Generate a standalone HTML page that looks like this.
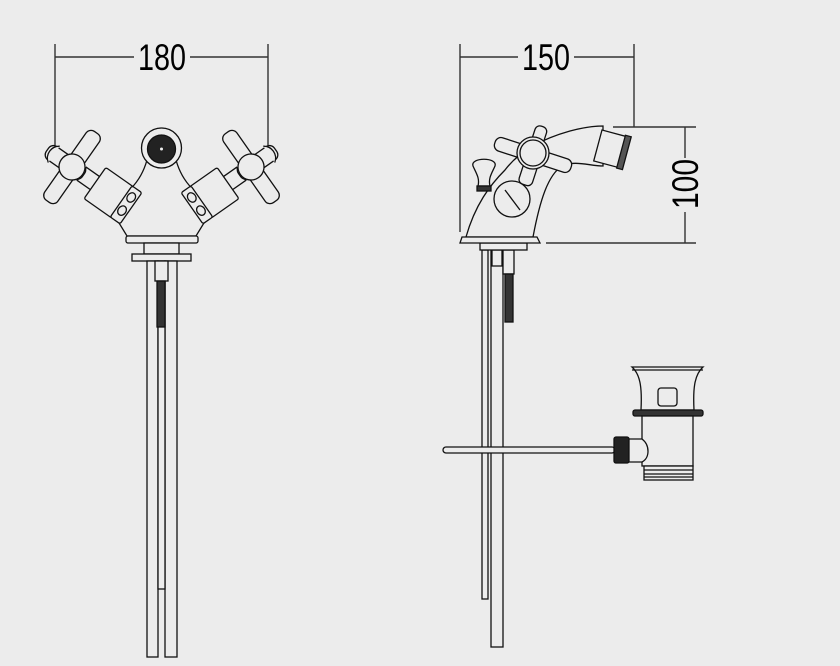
<!DOCTYPE html>
<html><head><meta charset="utf-8"><style>
html,body{margin:0;padding:0;background:#ececec;}
svg{display:block}
text{font-family:"Liberation Sans",sans-serif;fill:#000}
</style></head><body>
<svg width="840" height="666" viewBox="0 0 840 666" xmlns="http://www.w3.org/2000/svg">
<rect width="840" height="666" fill="#ececec"/>
<g stroke="#333" stroke-width="1.4" fill="none">
<line x1="55" y1="44" x2="55" y2="145"/>
<line x1="268" y1="44" x2="268" y2="145"/>
<line x1="55" y1="57" x2="134" y2="57"/>
<line x1="190" y1="57" x2="268" y2="57"/>
<line x1="460" y1="44" x2="460" y2="232"/>
<line x1="634" y1="44" x2="634" y2="127"/>
<line x1="460" y1="57" x2="518" y2="57"/>
<line x1="574" y1="57" x2="634" y2="57"/>
<line x1="613" y1="127" x2="696" y2="127"/>
<line x1="546" y1="243" x2="696" y2="243"/>
<line x1="685" y1="127" x2="685" y2="158"/>
<line x1="685" y1="212" x2="685" y2="243"/>
</g>
<text x="138" y="70" font-size="37" textLength="48" lengthAdjust="spacingAndGlyphs">180</text>
<text x="522" y="70" font-size="37" textLength="48" lengthAdjust="spacingAndGlyphs">150</text>
<text transform="translate(698,209) rotate(-90)" font-size="37" textLength="50" lengthAdjust="spacingAndGlyphs">100</text>

<!-- LEFT FAUCET -->
<g stroke="#111" stroke-width="1.3" fill="#ececec">
<path d="M147,160 C140,185 125,195 108,205 L127,236 L196,236 L215,205 C198,195 183,185 176,160 Z"/>
<rect x="126" y="236" width="72" height="7" rx="2"/>
<rect x="144" y="243" width="35" height="11"/>
<rect x="132" y="254" width="59" height="7"/>
<circle cx="161.5" cy="148" r="20"/>
<circle cx="161.5" cy="149" r="14" fill="#222"/>
<circle cx="161.5" cy="149" r="1.5" fill="#eee" stroke="none"/>
<rect x="147" y="261" width="11" height="396" />
<rect x="165" y="261" width="12" height="396" />
<rect x="158" y="261" width="7" height="328" />
<rect x="155" y="261" width="13" height="20"/>
<rect x="157" y="281" width="8" height="46" fill="#333"/>
</g>
<g stroke="#111" stroke-width="1.3" fill="#ececec" transform="translate(72,167) rotate(35)">
<rect x="12" y="-8" width="18" height="16"/>
<rect x="28" y="-19" width="34" height="38" rx="2"/>
<rect x="60" y="-19" width="12" height="38" rx="2"/>
<ellipse cx="66" cy="-9" rx="4" ry="5"/>
<ellipse cx="66" cy="7" rx="4" ry="5"/>
<rect x="-8" y="-42" width="16" height="84" rx="6"/>
<rect x="-30" y="-8" width="44" height="16" rx="6"/>
<path d="M-22,-10 A12,12 0 0 0 -22,10" />
<circle cx="0" cy="0" r="13"/>
</g>
<g transform="translate(323,0) scale(-1,1)">
<g stroke="#111" stroke-width="1.3" fill="#ececec" transform="translate(72,167) rotate(35)">
<rect x="12" y="-8" width="18" height="16"/>
<rect x="28" y="-19" width="34" height="38" rx="2"/>
<rect x="60" y="-19" width="12" height="38" rx="2"/>
<ellipse cx="66" cy="-9" rx="4" ry="5"/>
<ellipse cx="66" cy="7" rx="4" ry="5"/>
<rect x="-8" y="-42" width="16" height="84" rx="6"/>
<rect x="-30" y="-8" width="44" height="16" rx="6"/>
<path d="M-22,-10 A12,12 0 0 0 -22,10" />
<circle cx="0" cy="0" r="13"/>
</g></g>

<!-- RIGHT FAUCET -->
<g stroke="#111" stroke-width="1.3" fill="#ececec">
<rect x="482" y="250" width="6" height="349"/>
<rect x="491" y="250" width="12" height="397"/>
<rect x="492" y="250" width="10" height="16"/>
<rect x="503" y="250" width="11" height="24"/>
<rect x="505" y="274" width="8" height="48" fill="#333"/>
<rect x="480" y="243" width="47" height="7"/>
<path d="M466,237 C475,205 490,185 505,170 C520,150 545,138 570,131 C585,127 595,126 603,126 L603,166 C590,166 575,160 562,166 C548,175 540,200 533,237 Z"/>
<path d="M462,237 L537,237 L540,243 L460,243 Z"/>
<g transform="translate(602,130) rotate(15)">
<rect x="0" y="0" width="26" height="32"/>
<rect x="24" y="-1" width="6" height="34" fill="#555"/>
</g>
<circle cx="512" cy="199" r="18"/>
<path d="M505,190 L520,210" />
<path d="M473,166 C470,157 498,157 495,166 C492,173 488,178 490,186 L478,186 C480,178 476,173 473,166 Z"/>
<rect x="477" y="186" width="14" height="5" fill="#333"/>
<g transform="translate(533,155) rotate(18)">
<rect x="-40" y="-7" width="80" height="14" rx="6"/>
<rect x="-6" y="-30" width="12" height="40" rx="5"/>
<rect x="-6" y="5" width="14" height="26" rx="5"/>
</g>
<circle cx="533" cy="153" r="16"/>
<circle cx="533" cy="153" r="13"/>
</g>

<!-- DRAIN -->
<g stroke="#111" stroke-width="1.3" fill="#ececec">
<rect x="443" y="447" width="172" height="6" rx="3"/>
<path d="M632,367 L703,367 C694,375 693,390 694,410 L641,410 C642,390 641,375 632,367 Z"/>
<line x1="632" y1="370" x2="703" y2="370"/>
<rect x="658" y="388" width="19" height="18" rx="3"/>
<rect x="633" y="410" width="70" height="6" rx="2" fill="#333"/>
<rect x="642" y="416" width="51" height="50"/>
<rect x="644" y="466" width="49" height="14"/>
<line x1="644" y1="470" x2="693" y2="470"/>
<line x1="644" y1="474" x2="693" y2="474"/>
<line x1="644" y1="477" x2="693" y2="477"/>
<path d="M628,439 L642,439 C650,445 650,458 642,462 L628,462 Z"/>
<rect x="614" y="437" width="15" height="26" rx="2" fill="#222"/>
</g>
</svg>
</body></html>
